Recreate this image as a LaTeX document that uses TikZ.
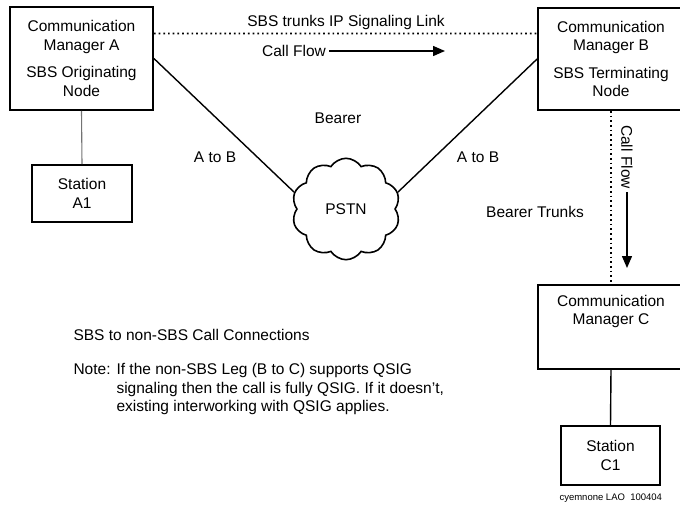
\documentclass[tikz,border=0pt]{standalone}
\usepackage{fontspec}
\setmainfont{Liberation Sans}
\usetikzlibrary{shapes.symbols,arrows.meta}

\begin{document}
\begin{tikzpicture}[x=1pt,y=-1pt,font=\fontsize{15.5}{18.5}\selectfont,
  box node/.style={draw,rectangle,line width=1.8pt,align=center,inner sep=0pt},
  link/.style={line width=1.4pt},
  dotline/.style={line width=1.7pt,dash pattern=on 1.7pt off 3pt},
  flow/.style={line width=1.4pt,-{Triangle[width=10pt,length=12pt]}}]

    \useasboundingbox (0,0) rectangle (680,506);

      \node[box node,minimum width=143,minimum height=103] at (81.5,58.5) (A) {Communication\\Manager A\\[9pt]SBS Originating\\Node};
      \node[box node,minimum width=100,minimum height=57] at (82,193.5) (A1) {Station\\A1};
      \node[box node,minimum width=146,minimum height=102] at (611,59) (B) {Communication\\Manager B\\[9pt]SBS Terminating\\Node};
      \node[box node,minimum width=146,minimum height=84] at (611,327) (C) {Communication\\Manager C\\[16pt]\mbox{}};
      \node[box node,minimum width=99,minimum height=59] at (610.5,455.5) (C1) {Station\\C1};
      \node[draw,cloud,cloud puffs=10,cloud puff arc=115,aspect=1.1,minimum width=108,minimum height=96,inner sep=14pt,line width=1.6pt] at (346,209) (pstn) {PSTN};

      % labels
      \node at (346,22) (sig) {SBS trunks IP Signaling Link};
      \node at (294,51) (cfA) {Call Flow};
      \coordinate (cfAend) at (445,51);
      \node[rotate=-90] at (627,157) (cfB) {Call Flow};
      \coordinate (cfBend) at (627,268);
      \node at (338,118) (bearer) {Bearer};
      \node at (215,157) (ab1) {A to B};
      \node at (478,157) (ab2) {A to B};
      \node at (535,212) (trunks) {Bearer Trunks};

      \node[anchor=west] at (70,335) (title) {SBS to non-SBS Call Connections};
      \node[anchor=north west] at (70,360) (note) {Note:};
      \node[anchor=north west,align=left] at (113,360) (notetext) {If the non-SBS Leg (B to C) supports QSIG\\signaling then the call is fully QSIG. If it doesn't,\\existing interworking with QSIG applies.};
      \node[anchor=west,font=\fontsize{9.5}{11}\selectfont] at (556,498) (ref) {cyemnone LAO\ \ 100404};

      \path[link]
      (A.east) edge (pstn.162)
      (pstn.18) edge (B.west)
      (A.south) edge[black!55,line width=1.1pt] (A1.north)
      (C.south) edge (C1.north)
      ;
      \path[dotline]
      (A.19) edge (B.161)
      (B.south) edge (C.north)
      ;
      \draw[flow] (cfA.east) -- (cfAend);
      \draw[flow] (cfB.east) -- (cfBend);

    \end{tikzpicture}
\end{document}
